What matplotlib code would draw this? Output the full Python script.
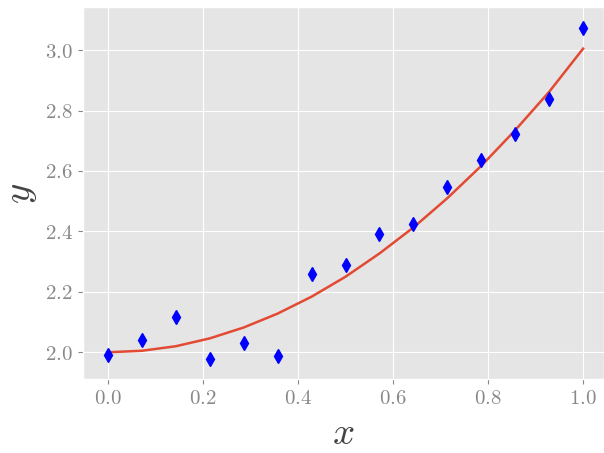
import matplotlib
matplotlib.use("Agg")
from matplotlib import pyplot as plt

plt.style.use("ggplot")
plt.rcParams["mathtext.fontset"] = "cm"
plt.rcParams["font.family"] = "serif"
plt.rcParams["font.serif"] = ["DejaVu Serif"]

# data
x_pts = [0.0, 0.0714, 0.1429, 0.2143, 0.2857, 0.3571, 0.4286, 0.5,
         0.5714, 0.6429, 0.7143, 0.7857, 0.8571, 0.9286, 1.0]
y_pts = [1.99, 2.04, 2.117, 1.977, 2.031, 1.987, 2.26, 2.29,
         2.393, 2.423, 2.547, 2.638, 2.722, 2.838, 3.074]
y_fit = [2.0, 2.005, 2.020, 2.046, 2.082, 2.128, 2.184, 2.25,
         2.327, 2.413, 2.510, 2.617, 2.735, 2.862, 3.005]

x_ticks = [0.0, 0.2, 0.4, 0.6, 0.8, 1.0]
y_ticks = [2.0, 2.2, 2.4, 2.6, 2.8, 3.0]

fig = plt.figure(figsize=(6.04, 4.53), dpi=100)
ax = fig.add_axes([0.137, 0.163, 0.863, 0.821])

ax.plot(x_pts, y_fit, color="#E24A33", linewidth=1.8)
ax.plot(x_pts, y_pts, "bd", markersize=7.5)

ax.set_xlim(-0.053, 1.044)
ax.set_ylim(1.911, 3.142)
ax.set_xticks(x_ticks)
ax.set_yticks(y_ticks)
ax.set_xticklabels([r"$%.1f$" % t for t in x_ticks])
ax.set_yticklabels([r"$%.1f$" % t for t in y_ticks])
ax.tick_params(labelsize=15, colors="#888888")

ax.set_xlabel(r"$x$", fontsize=28, color="#444444", labelpad=5)
ax.set_ylabel(r"$y$", fontsize=28, color="#444444")

fig.savefig("out.png", dpi=100)
